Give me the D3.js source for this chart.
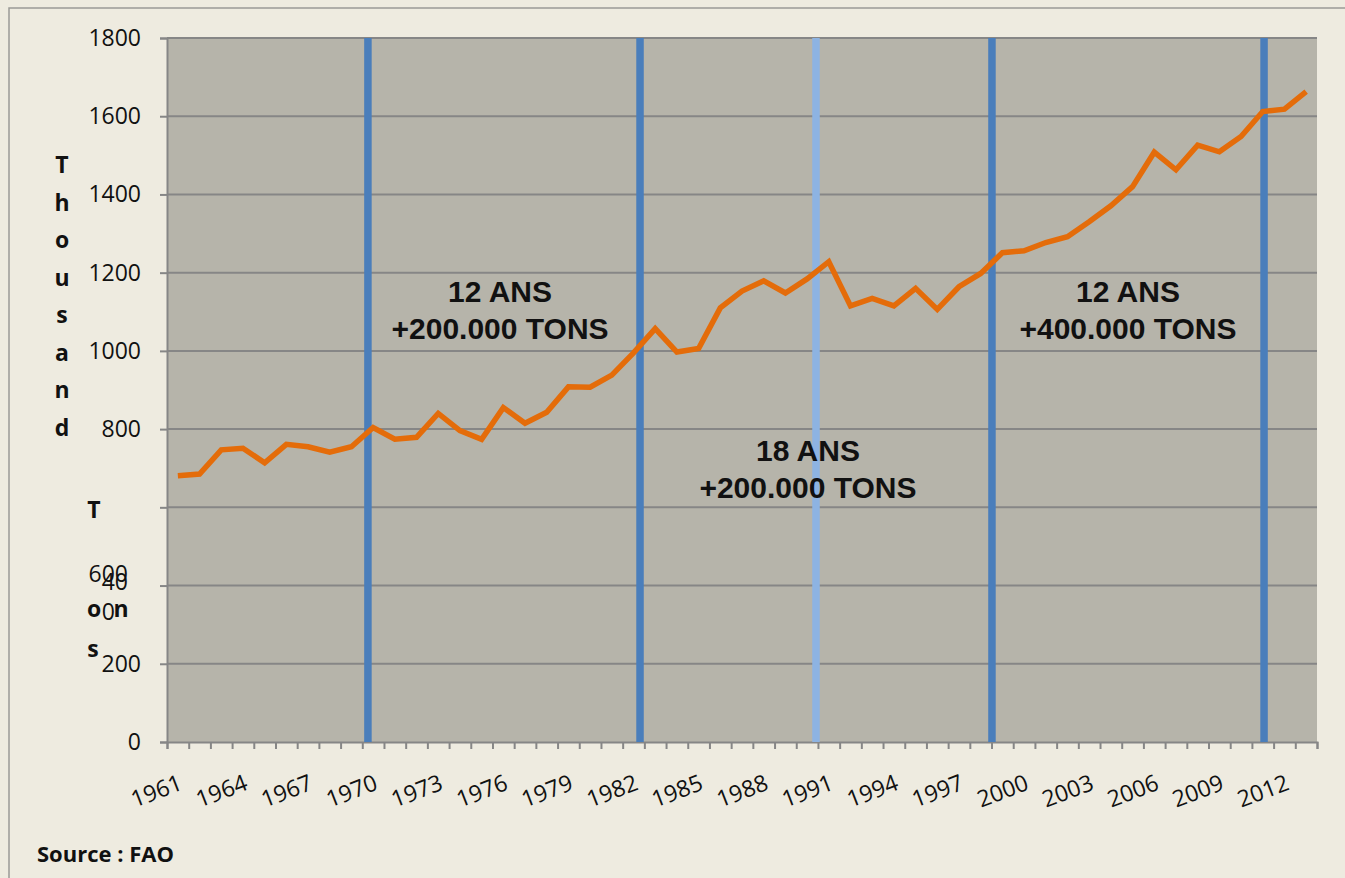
<!DOCTYPE html>
<html>
<head>
<meta charset="utf-8">
<script src="https://cdn.jsdelivr.net/npm/d3@7"></script>
<style>
  body { margin:0; background:#eeebe0; }
  svg { display:block; }
</style>
</head>
<body>
<div id="chart"></div>
<script>
////////////////////////////////////////////////////
// data (thousand tons)
////////////////////////////////////////////////////
var years = d3.range(1961, 2014);
var production = [
	681, 685, 747, 751, 714, 761, 755, 741, 755, 804,
	774, 779, 840, 796, 774, 855, 815, 843, 908, 907,
	938, 995, 1057, 997, 1006, 1110, 1153, 1179, 1148, 1184,
	1228, 1115, 1134, 1115, 1160, 1106, 1164, 1198, 1251, 1256,
	1277, 1292, 1330, 1371, 1420, 1508, 1463, 1526, 1509, 1548,
	1612, 1618, 1663
];
var yTicks = [0, 200, 400, 600, 800, 1000, 1200, 1400, 1600, 1800];
var xLabelYears = d3.range(1961, 2014, 3);
// vertical period markers (fractional year position)
var markerYears = [1969.76, 1982.30, 1990.41, 1998.52, 2011.06];
var markerKind  = ["dark", "dark", "light", "dark", "dark"];
var notes = [
	["12 ANS", "+200.000 TONS"],
	["18 ANS", "+200.000 TONS"],
	["12 ANS", "+400.000 TONS"]
];
var noteYears  = [1975.85, 1990.04, 2004.79];
var noteValues = [1125, 718, 1125];
var titleLetters = ["T","h","o","u","s","a","n","d"];
////////////////////////////////////////////////////

var W = 1345, H = 878;
var pL = 167, pR = 1317, pT = 38, pB = 742;
var FONT = "'Open Sans', 'Noto Sans', sans-serif";
var FS = 23;

var svg = d3.select("#chart").append("svg")
	.attr("width", W)
	.attr("height", H);

// frame
svg.append("rect")
	.attr("x", 9).attr("y", 8)
	.attr("width", 1400).attr("height", 900)
	.attr("fill", "#eeebe0")
	.attr("stroke", "#9a9a96")
	.attr("stroke-width", 1.5);

var x = d3.scaleBand().domain(years).range([pL, pR]).padding(0);
var xLin = d3.scaleLinear().domain([1960.5, 2013.5]).range([pL, pR]);
var y = d3.scaleLinear().domain([0, 1800]).range([pB, pT]);

// plot background
svg.append("rect")
	.attr("x", pL).attr("y", pT)
	.attr("width", pR - pL).attr("height", pB - pT)
	.attr("fill", "#b6b4aa");

// gridlines
svg.append("g").selectAll("line")
	.data(yTicks.filter(function(d){ return d > 0; }))
	.enter().append("line")
		.attr("x1", pL).attr("x2", pR)
		.attr("y1", function(d){ return y(d); })
		.attr("y2", function(d){ return y(d); })
		.attr("stroke", "#868686")
		.attr("stroke-width", 2);

// y axis
var yAxis = svg.append("g")
	.attr("transform", "translate(" + pL + ",0)")
	.call(d3.axisLeft(y).tickValues(yTicks).tickFormat(d3.format("d")).tickSize(7).tickPadding(19));
yAxis.select(".domain").attr("stroke", "#868686").attr("stroke-width", 2);
yAxis.selectAll(".tick line").attr("stroke", "#868686").attr("stroke-width", 2);
yAxis.selectAll(".tick text")
	.attr("font-family", FONT)
	.attr("font-size", FS)
	.attr("fill", "#111");

// the overlapping labels of the original
yAxis.selectAll(".tick").filter(function(d){ return d === 600; }).select("text")
	.attr("x", -39).attr("y", 67);
var t400 = yAxis.selectAll(".tick").filter(function(d){ return d === 400; }).select("text");
t400.text("40").attr("x", -39).attr("y", -3);
yAxis.selectAll(".tick").filter(function(d){ return d === 400; }).append("text")
	.attr("x", -52).attr("y", 27).attr("dy", "0.32em")
	.attr("text-anchor", "end")
	.attr("font-family", FONT)
	.attr("font-size", FS)
	.attr("fill", "#111")
	.text("0");

// x axis
var xAxis = svg.append("g")
	.attr("transform", "translate(0," + pB + ")")
	.call(d3.axisBottom(xLin).tickValues(d3.range(1960.5, 2014, 1)).tickSize(7).tickFormat(""));
xAxis.select(".domain").attr("stroke", "#868686").attr("stroke-width", 2);
xAxis.selectAll(".tick line").attr("stroke", "#868686").attr("stroke-width", 2);

svg.append("g").selectAll("text")
	.data(xLabelYears)
	.enter().append("text")
		.attr("transform", function(d){ return "translate(" + (x(d) + x.bandwidth()/2 + 6) + ",789) rotate(-21)"; })
		.attr("text-anchor", "end")
		.attr("font-family", FONT)
		.attr("font-size", FS)
		.attr("fill", "#111")
		.text(function(d){ return d; });

// period markers
svg.append("g").selectAll("line")
	.data(markerYears)
	.enter().append("line")
		.attr("x1", function(d){ return xLin(d); })
		.attr("x2", function(d){ return xLin(d); })
		.attr("y1", pT).attr("y2", pB)
		.attr("stroke", function(d,i){ return markerKind[i] === "light" ? "#8db3e2" : "#4a7ebb"; })
		.attr("stroke-width", 7.5);

// production line
var line = d3.line()
	.x(function(d,i){ return x(years[i]) + x.bandwidth()/2; })
	.y(function(d){ return y(d); });
svg.append("path")
	.datum(production)
	.attr("d", line)
	.attr("fill", "none")
	.attr("stroke", "#e46c0a")
	.attr("stroke-width", 5.5)
	.attr("stroke-linejoin", "miter");

// notes
var noteG = svg.append("g").selectAll("text")
	.data(notes)
	.enter().append("text")
		.attr("text-anchor", "middle")
		.attr("font-family", "'Liberation Sans', Arial, sans-serif")
		.attr("font-weight", "bold")
		.attr("font-size", 30)
		.attr("fill", "#111")
		.attr("x", function(d,i){ return xLin(noteYears[i]); })
		.attr("y", function(d,i){ return y(noteValues[i]); });
noteG.selectAll("tspan")
	.data(function(d,i){ return d.map(function(s){ return {s:s, x:xLin(noteYears[i])}; }); })
	.enter().append("tspan")
		.attr("x", function(d){ return d.x; })
		.attr("dy", function(d,j){ return j === 0 ? 0 : 37; })
		.text(function(d){ return d.s; });

// y title, letter by letter like the original
var titleG = svg.append("g")
	.attr("font-family", FONT)
	.attr("font-weight", "bold")
	.attr("font-size", FS)
	.attr("fill", "#111")
	.attr("text-anchor", "middle");
titleG.selectAll("text.t1")
	.data(titleLetters)
	.enter().append("text")
		.attr("class", "t1")
		.attr("x", 62)
		.attr("y", function(d,i){ return 173 + i * 37.5; })
		.text(function(d){ return d; });
titleG.append("text").attr("x", 94).attr("y", 518).text("T");
titleG.append("text").attr("x", 94).attr("y", 617).text("o");
titleG.append("text").attr("x", 121).attr("y", 617).text("n");
titleG.append("text").attr("x", 93).attr("y", 657).text("s");

// source
svg.append("text")
	.attr("x", 37).attr("y", 862)
	.attr("font-family", FONT)
	.attr("font-weight", "bold")
	.attr("font-size", 22)
	.attr("fill", "#111")
	.text("Source : FAO");
</script>
</body>
</html>
